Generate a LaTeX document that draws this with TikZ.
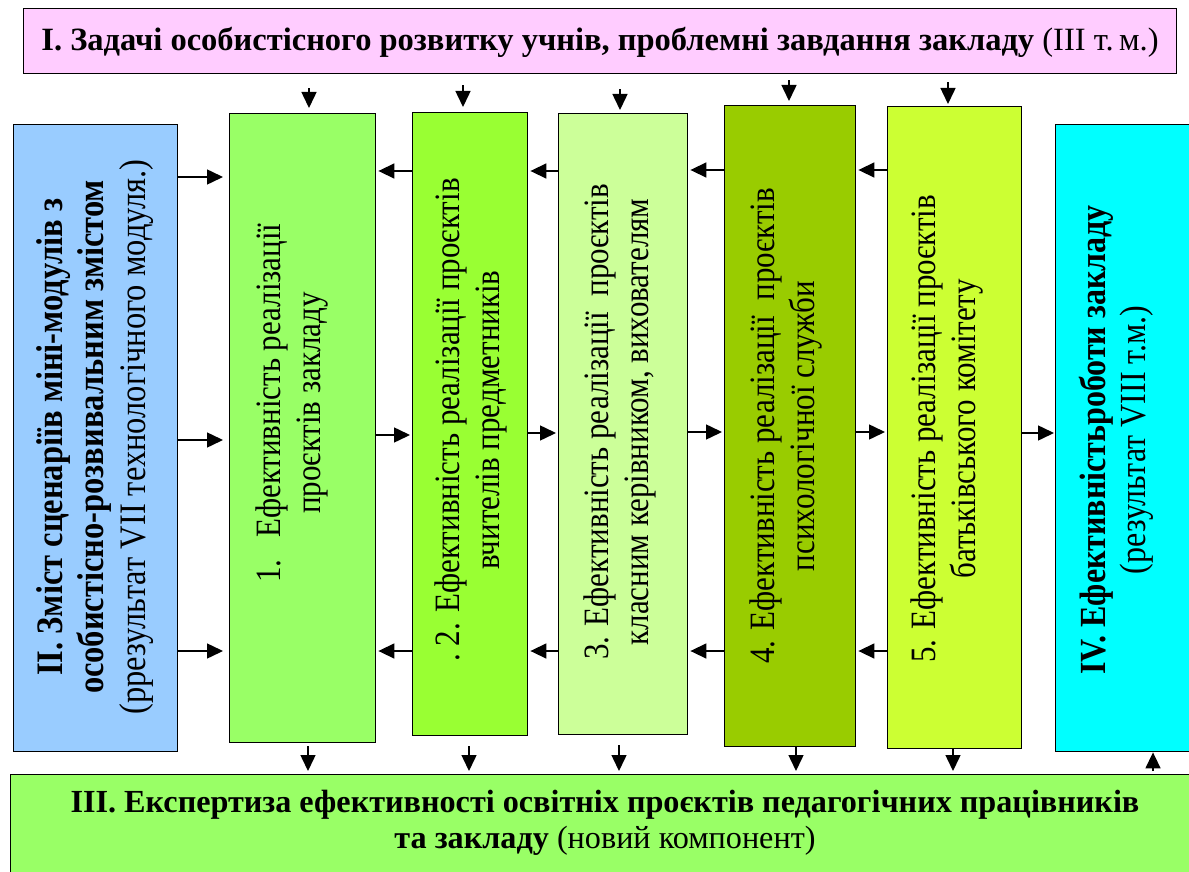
\documentclass[tikz,border=0pt]{standalone}
\usepackage{fontspec}
\setmainfont{Liberation Serif}
\usetikzlibrary{arrows.meta}
\definecolor{cpink}{HTML}{FFCCFF}
\definecolor{cblue}{HTML}{99CCFF}
\definecolor{cg1}{HTML}{99FF66}
\definecolor{cg2}{HTML}{99FF33}
\definecolor{cg3}{HTML}{CCFF99}
\definecolor{cg4}{HTML}{99CC00}
\definecolor{cg5}{HTML}{CCFF33}
\definecolor{ccyan}{HTML}{00FFFF}
\tikzset{
  boxnode/.style={draw=black, line width=1.4pt, inner sep=0pt, anchor=north west},
  vtext/.style={xscale=1.15, rotate=90, align=center, inner sep=0pt, font=\fontsize{31}{35}\selectfont},
  arr/.style={line width=1.5pt, -{Triangle[width=15pt,length=16pt]}}
}
\begin{document}
\begin{tikzpicture}[x=1pt,y=-1pt]
\useasboundingbox (0,0) rectangle (1189,872);
% boxes
\node[boxnode, fill=cpink, minimum width=1153pt, minimum height=65pt] (top) at (23,8) {};
\node[boxnode, fill=cblue, minimum width=164pt, minimum height=627pt] (II) at (13,124) {};
\node[boxnode, fill=cg1, minimum width=146pt, minimum height=629pt] (b1) at (229,113) {};
\node[boxnode, fill=cg2, minimum width=115pt, minimum height=623pt] (b2) at (412,112) {};
\node[boxnode, fill=cg3, minimum width=129pt, minimum height=621pt] (b3) at (558,113) {};
\node[boxnode, fill=cg4, minimum width=131pt, minimum height=641pt] (b4) at (724,105) {};
\node[boxnode, fill=cg5, minimum width=134pt, minimum height=642pt] (b5) at (887,106) {};
\node[boxnode, fill=ccyan, minimum width=150pt, minimum height=627pt] (IV) at (1055,124) {};
\node[boxnode, fill=cg1, minimum width=1190pt, minimum height=110pt] (bot) at (10,774) {};
% texts
\node[inner sep=0pt, font=\fontsize{32.5}{36}\selectfont] (ttop) at (600,42)
  {\textbf{І. Задачі особистісного розвитку учнів, проблемні завдання закладу} (ІІІ т.\,м.)};
\node[vtext, font=\fontsize{32.5}{36}\selectfont] (tII) at (95,437) {\textbf{ІІ. Зміст сценаріїв міні-модулів з}\\
  \textbf{особистісно-розвивальним змістом}\\(ррезультат VІІ технологічного модуля.)};
\node[vtext] (t1) at (292,403) {1.\hspace{0.7em}Ефективність реалізації\\проєктів закладу};
\node[vtext] (t2) at (471,420) {.\ 2. Ефективність реалізації проєктів\\вчителів предметників};
\node[vtext] (t3) at (620,422) {3. Ефективність реалізації\ \ проєктів\\класним керівником, вихователям};
\node[vtext] (t4) at (786,426) {4. Ефективність реалізації\ \ проєктів\\психологічної служби};
\node[vtext] (t5) at (947,429) {5. Ефективність реалізації проєктів\\батьківського комітету};
\node[vtext, font=\fontsize{32}{35}\selectfont] (tIV) at (1116,440) {\textbf{ІV. Ефективністьроботи закладу}\\(результат VІІІ т.м.)};
\node[align=center, inner sep=0pt, font=\fontsize{32.2}{36}\selectfont] (tbot) at (605,823)
  {\textbf{ІІІ. Експертиза ефективності освітніх проєктів педагогічних працівників}\\
   \textbf{та закладу} (новий компонент)};
% arrows from top box
\draw[arr, shorten >=5pt] (top.south -| 309,0) ++(0,14) -- (b1.north -| 309,0);
\draw[arr, shorten >=5pt] (top.south -| 463,0) ++(0,11) -- (b2.north -| 463,0);
\draw[arr, shorten >=3pt] (top.south -| 620,0) ++(0,15) -- (b3.north -| 620,0);
\draw[arr, shorten >=4pt] (top.south -| 789,0) ++(0,6) -- (b4.north -| 789,0);
\draw[arr, shorten >=2pt] (top.south -| 948,0) ++(0,8) -- (b5.north -| 948,0);
% arrows II -> b1
\foreach \yy in {177,440,651}
  \draw[arr, shorten >=6pt] (II.east |- 0,\yy) -- (b1.west |- 0,\yy);
% arrows between boxes
\draw[arr, shorten >=2pt] (b2.west |- 0,171) -- (b1.east |- 0,171);
\draw[arr, shorten >=2pt] (b1.east |- 0,435) -- (b2.west |- 0,435);
\draw[arr, shorten >=2pt] (b2.west |- 0,651) -- (b1.east |- 0,651);
\draw[arr, shorten >=2pt] (b3.west |- 0,171) -- (b2.east |- 0,171);
\draw[arr, shorten >=2pt] (b2.east |- 0,433) -- (b3.west |- 0,433);
\draw[arr, shorten >=2pt] (b3.west |- 0,651) -- (b2.east |- 0,651);
\draw[arr, shorten >=2pt] (b4.west |- 0,170) -- (b3.east |- 0,170);
\draw[arr, shorten >=2pt] (b3.east |- 0,432) -- (b4.west |- 0,432);
\draw[arr, shorten >=2pt] (b4.west |- 0,651) -- (b3.east |- 0,651);
\draw[arr, shorten >=2pt] (b5.west |- 0,170) -- (b4.east |- 0,170);
\draw[arr, shorten >=2pt] (b4.east |- 0,432) -- (b5.west |- 0,432);
\draw[arr, shorten >=2pt] (b5.west |- 0,651) -- (b4.east |- 0,651);
\draw[arr, shorten >=1pt] (b5.east |- 0,433) -- (IV.west |- 0,433);
% arrows to bottom box
\draw[arr, shorten >=3pt] (b1.south -| 308,0) ++(0,3) -- (bot.north -| 308,0);
\draw[arr, shorten >=3pt] (b2.south -| 469,0) ++(0,10) -- (bot.north -| 469,0);
\draw[arr, shorten >=3pt] (b3.south -| 619,0) ++(0,10) -- (bot.north -| 619,0);
\draw[arr, shorten >=3pt] (b4.south -| 796,0) -- (bot.north -| 796,0);
\draw[arr, shorten >=3pt] (b5.south -| 953,0) -- (bot.north -| 953,0);
\draw[arr] (bot.north -| 1153,0) ++(0,-3) -- (IV.south -| 1153,0);
\end{tikzpicture}
\end{document}
